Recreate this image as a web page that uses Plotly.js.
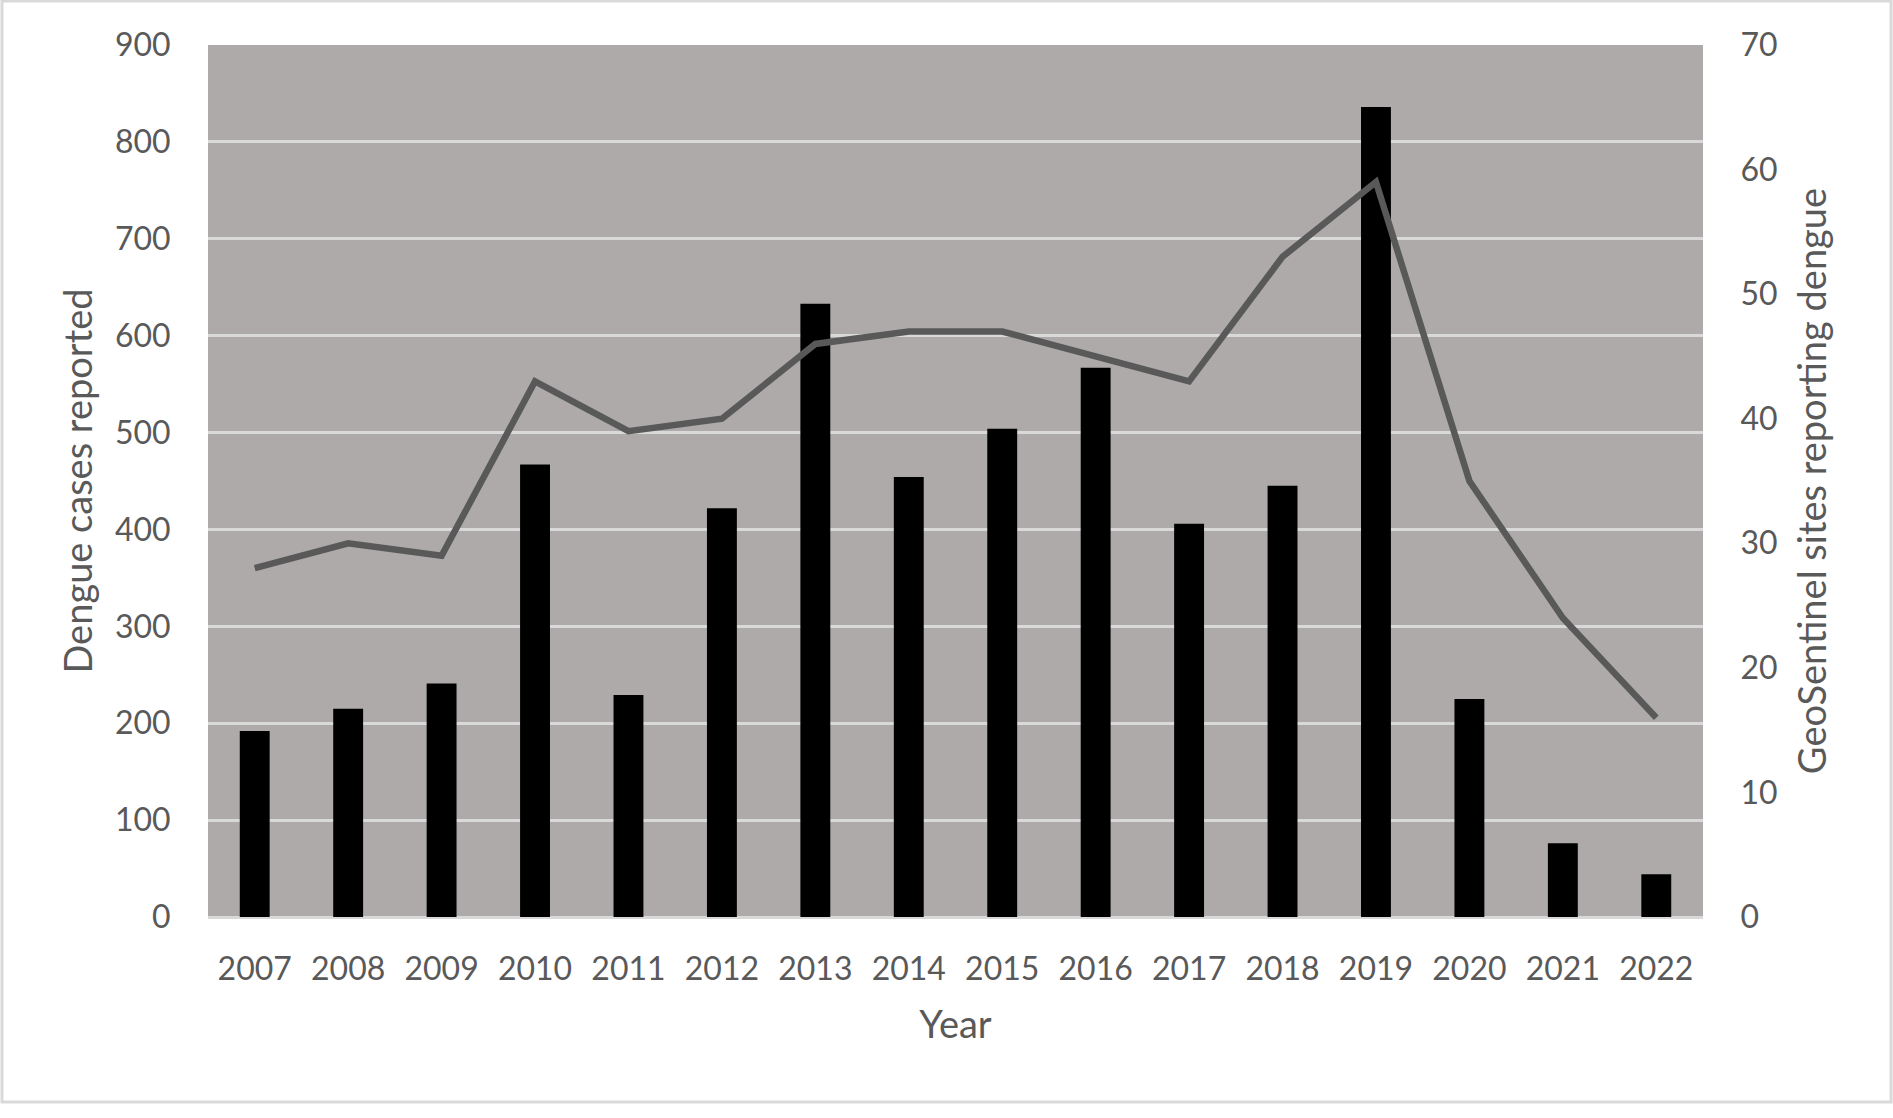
<!DOCTYPE html>
<html>
<head>
<meta charset="utf-8">
<script src="https://cdn.plot.ly/plotly-3.0.1.min.js"></script>
<style>
  html, body { margin: 0; padding: 0; background: #fff; }
  #chart { width: 1893px; height: 1118px; }
</style>
</head>
<body>
<div id="chart"></div>
<script>
const years = ['2007', '2008', '2009', '2010', '2011', '2012', '2013', '2014',
  '2015', '2016', '2017', '2018', '2019', '2020', '2021', '2022'];
// dengue cases reported (bars, left axis)
const cases = [192, 215, 241, 467, 229, 422, 633, 454, 504, 567, 406, 445, 836, 225, 76, 44];
// GeoSentinel sites reporting dengue (line, right axis)
const sites = [28, 30, 29, 43, 39, 40, 46, 47, 47, 45, 43, 53, 59, 35, 24, 16];

const leftTicks = [0, 100, 200, 300, 400, 500, 600, 700, 800, 900];
const rightTicks = [0, 10, 20, 30, 40, 50, 60, 70];

const textColor = '#595959';
const gridColor = '#d9d9d9';
const fontFamily = 'Lato, "Open Sans", sans-serif';

const traces = [
  {
    type: 'bar',
    x: years,
    y: cases,
    name: 'Dengue cases reported',
    marker: { color: '#000000' },
    xaxis: 'x',
    yaxis: 'y'
  },
  {
    type: 'scatter',
    mode: 'lines',
    x: years,
    y: sites,
    name: 'GeoSentinel sites reporting dengue',
    line: { color: '#595959', width: 6.5 },
    xaxis: 'x',
    yaxis: 'y2'
  }
];

const layout = {
  width: 1893,
  height: 1118,
  paper_bgcolor: '#ffffff',
  plot_bgcolor: '#aeaaaa',
  showlegend: false,
  bargap: 0.68,
  margin: { t: 45, r: 190, b: 201, l: 208 },
  font: { family: fontFamily, size: 32, color: textColor },
  xaxis: {
    type: 'category',
    showgrid: false,
    zeroline: false,
    showline: false,
    ticks: 'outside',
    ticklen: 24,
    tickcolor: 'rgba(0,0,0,0)',
    tickfont: { size: 32, color: textColor },
    title: { text: 'Year', font: { size: 38, color: textColor }, standoff: 24 }
  },
  yaxis: {
    range: [0, 900],
    tickvals: leftTicks,
    showgrid: true,
    gridcolor: gridColor,
    gridwidth: 3,
    zeroline: true,
    zerolinecolor: gridColor,
    zerolinewidth: 3,
    showline: false,
    ticks: 'outside',
    ticklen: 30,
    tickcolor: 'rgba(0,0,0,0)',
    tickfont: { size: 32, color: textColor },
    title: { text: 'Dengue cases reported', font: { size: 38, color: textColor }, standoff: 10 }
  },
  yaxis2: {
    range: [0, 70],
    tickvals: rightTicks,
    overlaying: 'y',
    side: 'right',
    showgrid: false,
    zeroline: false,
    showline: false,
    ticks: 'outside',
    ticklen: 30,
    tickcolor: 'rgba(0,0,0,0)',
    tickfont: { size: 32, color: textColor },
    title: { text: 'GeoSentinel sites reporting dengue', font: { size: 38, color: textColor }, standoff: 22 }
  },
  shapes: [
    {
      type: 'rect', xref: 'paper', yref: 'paper',
      x0: -0.1378, x1: 1.1258, y0: -0.2122, y1: 1.0505,
      line: { color: gridColor, width: 3 },
      fillcolor: 'rgba(0,0,0,0)',
      layer: 'below'
    }
  ]
};

Plotly.newPlot('chart', traces, layout, { displayModeBar: false, staticPlot: true });
</script>
</body>
</html>
